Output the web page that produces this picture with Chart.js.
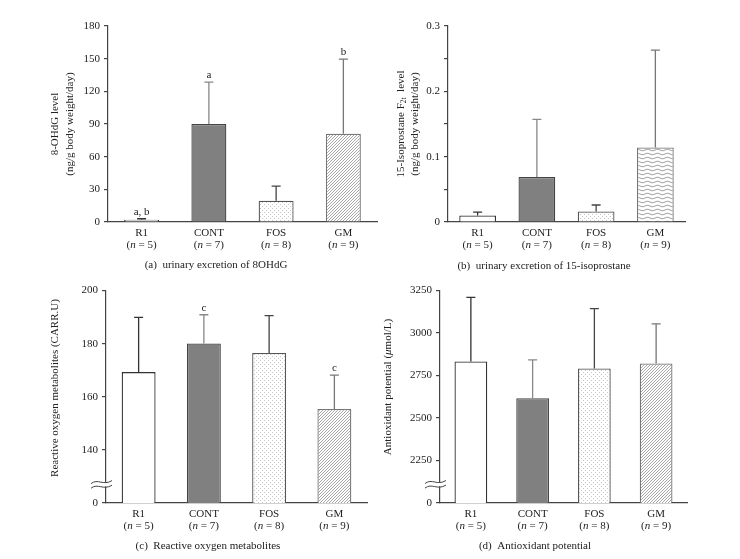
<!DOCTYPE html>
<html>
<head>
<meta charset="utf-8">
<script src="https://cdn.jsdelivr.net/npm/chart.js@4.4.0/dist/chart.umd.min.js"></script>
<style>
  body { margin: 0; background: #fff; width: 740px; height: 559px; position: relative; overflow: hidden; }
  canvas { position: absolute; }
</style>
</head>
<body>
<canvas id="chartA" width="390" height="280" style="left:0px;top:0px"></canvas>
<canvas id="chartB" width="350" height="280" style="left:390px;top:0px"></canvas>
<canvas id="chartC" width="390" height="279" style="left:0px;top:280px"></canvas>
<canvas id="chartD" width="365" height="279" style="left:375px;top:280px"></canvas>
<script>
// Groups and group sizes
const groups = ['R1', 'CONT', 'FOS', 'GM'];
const groupN = [5, 7, 8, 9];

// (a) urinary excretion of 8OHdG
const ohdgMean = [2, 90, 19.5, 81];
const ohdgSd = [1, 38.5, 13.5, 68.5];
const ohdgMarks = ['a, b', 'a', '', 'b'];
const ohdgTicks = [0, 30, 60, 90, 120, 150, 180];
const ohdgTickLabels = ['0', '30', '60', '90', '120', '150', '180'];

// (b) urinary excretion of 15-isoprostane
const isoMean = [0.010, 0.069, 0.016, 0.114];
const isoSd = [0.005, 0.088, 0.010, 0.149];
const isoTicks = [0, 0.05, 0.1, 0.15, 0.2, 0.25, 0.3];
const isoTickLabels = ['0', '', '0.1', '', '0.2', '', '0.3'];

// (c) reactive oxygen metabolites (axis broken below 140)
const romMean = [169.3, 180.1, 176.5, 155.4];
const romSd = [20.6, 10.8, 14.1, 12.8];
const romMarks = ['', 'c', '', 'c'];
const romTicks = [120, 140, 160, 180, 200];
const romTickLabels = ['0', '140', '160', '180', '200'];

// (d) antioxidant potential (axis broken below 2250)
const bapMean = [2833, 2617, 2792, 2821];
const bapSd = [377, 225, 352, 233];
const bapTicks = [2000, 2250, 2500, 2750, 3000, 3250];
const bapTickLabels = ['0', '2250', '2500', '2750', '3000', '3250'];

const FONT = '"Liberation Serif", "Times New Roman", serif';
const INK = '#222';

function makePattern(w, h, draw) {
    const c = document.createElement('canvas');
    c.width = w; c.height = h;
    const g = c.getContext('2d');
    g.fillStyle = '#fff';
    g.fillRect(0, 0, w, h);
    draw(g);
    return g.createPattern(c, 'repeat');
}

const dots = makePattern(4, 4, g => {
    g.fillStyle = '#c4c4c4';
    g.fillRect(0, 0, 1, 1);
    g.fillRect(2, 2, 1, 1);
});
const hatch = makePattern(3, 3, g => {
    g.fillStyle = '#a6a6a6';
    for (let i = 0; i < 3; i++) g.fillRect(i, 2 - i, 1, 1);
});
const waves = makePattern(10, 4, g => {
    g.strokeStyle = '#777';
    g.lineWidth = 0.8;
    g.beginPath();
    for (let x = 0; x <= 10; x += 0.5) {
        const yy = 2 + Math.sin(x / 10 * 2 * Math.PI) * 0.7;
        if (x === 0) g.moveTo(x, yy); else g.lineTo(x, yy);
    }
    g.stroke();
});

// text made of parts: [text, style] with style '' | 'i' | 'sub'
function drawRich(ctx, parts, x, y, size) {
    const fonts = parts.map(p => (p[1] === 'i' ? 'italic ' : '') + (p[1] === 'sub' ? size * 0.68 : size) + 'px ' + FONT);
    const widths = parts.map((p, k) => { ctx.font = fonts[k]; return ctx.measureText(p[0]).width; });
    let cx = x - widths.reduce((a, b) => a + b, 0) / 2;
    ctx.textAlign = 'left';
    ctx.textBaseline = 'middle';
    parts.forEach((p, k) => {
        ctx.font = fonts[k];
        ctx.fillText(p[0], cx, y + (p[1] === 'sub' ? size * 0.3 : 0));
        cx += widths[k];
    });
}

// upward error bars and letter marks
const errorBars = {
    id: 'errorBars',
    afterDatasetsDraw(chart, args, opts) {
        const { ctx } = chart;
        const y = chart.scales.y;
        const ds = chart.data.datasets[0];
        const meta = chart.getDatasetMeta(0);
        ctx.save();
        meta.data.forEach((bar, i) => {
            const top = y.getPixelForValue(ds.data[i] + opts.sd[i]);
            ctx.strokeStyle = opts.colors[i];
            ctx.lineWidth = 1.3;
            ctx.beginPath();
            ctx.moveTo(bar.x, bar.y);
            ctx.lineTo(bar.x, top);
            ctx.moveTo(bar.x - 4.5, top);
            ctx.lineTo(bar.x + 4.5, top);
            ctx.stroke();
            if (opts.marks && opts.marks[i]) {
                ctx.fillStyle = INK;
                ctx.font = '11px ' + FONT;
                ctx.textAlign = 'center';
                ctx.textBaseline = 'middle';
                ctx.fillText(opts.marks[i], bar.x, top - 7);
            }
        });
        ctx.restore();
    }
};

// n labels, y title, caption, axis break
const annotations = {
    id: 'annotations',
    afterDraw(chart, args, opts) {
        const { ctx } = chart;
        const x = chart.scales.x, y = chart.scales.y;
        ctx.save();
        ctx.fillStyle = INK;
        groupN.forEach((n, i) => {
            drawRich(ctx, [['(', ''], ['n', 'i'], [' = ' + n + ')', '']], x.getPixelForValue(i), x.top + 23, 11);
        });
        opts.title.forEach((line, k) => {
            ctx.save();
            ctx.translate(opts.titleX[k], opts.titleY);
            ctx.rotate(-Math.PI / 2);
            drawRich(ctx, line, 0, 0, 11);
            ctx.restore();
        });
        drawRich(ctx, opts.caption, opts.captionX, opts.captionY, 11);
        if (opts.breakAt !== undefined) {
            const py = y.getPixelForValue(opts.breakAt);
            const ax = y.right;
            ctx.fillStyle = '#fff';
            ctx.fillRect(ax - 2, py - 2, 4, 4);
            ctx.strokeStyle = '#444';
            ctx.lineWidth = 1;
            [-2.3, 2.3].forEach(d => {
                ctx.beginPath();
                ctx.moveTo(ax - 15, py + d + 1.5);
                ctx.bezierCurveTo(ax - 8, py + d - 4, ax - 3, py + d + 4, ax + 6, py + d - 1.5);
                ctx.stroke();
            });
        }
        ctx.restore();
    }
};

function makePanel(id, cfg) {
    return new Chart(document.getElementById(id).getContext('2d'), {
        type: 'bar',
        data: {
            labels: groups,
            datasets: [{
                data: cfg.mean,
                backgroundColor: cfg.fills,
                borderColor: ['#333', '#444', '#555', '#777'],
                borderWidth: 1.3,
                barPercentage: cfg.barPct,
                categoryPercentage: 1
            }]
        },
        plugins: [errorBars, annotations],
        options: {
            responsive: false,
            animation: false,
            layout: { padding: cfg.padding },
            plugins: {
                legend: { display: false },
                tooltip: { enabled: false },
                errorBars: { sd: cfg.sd, marks: cfg.marks, colors: ['#333', '#888', '#444', '#777'] },
                annotations: cfg.notes
            },
            scales: {
                x: {
                    grid: { display: false, drawTicks: false },
                    border: { display: true, color: '#444', width: 1.2 },
                    ticks: { color: INK, padding: 5, font: { family: FONT, size: 11 } },
                    afterFit(scale) { scale.height = 30; }
                },
                y: {
                    min: cfg.ticks[0],
                    max: cfg.ticks[cfg.ticks.length - 1],
                    afterBuildTicks(scale) { scale.ticks = cfg.ticks.map(v => ({ value: v })); },
                    grid: { display: true, drawOnChartArea: false, drawTicks: true, tickLength: 4, color: '#444', lineWidth: 1.2 },
                    border: { display: true, color: '#444', width: 1.2 },
                    ticks: {
                        color: INK, padding: 4, font: { family: FONT, size: 11 },
                        callback: (v, i) => cfg.tickLabels[i]
                    },
                    afterFit(scale) { scale.width = cfg.yWidth; }
                }
            }
        }
    });
}

makePanel('chartA', {
    mean: ohdgMean, sd: ohdgSd, marks: ohdgMarks,
    ticks: ohdgTicks, tickLabels: ohdgTickLabels,
    fills: ['#ffffff', '#808080', dots, hatch],
    barPct: 0.52, yWidth: 108,
    padding: { top: 26, right: 13, bottom: 28, left: 0 },
    notes: {
        title: [[['8-OHdG level', '']], [['(ng/g body weight/day)', '']]],
        titleX: [55, 70], titleY: 124,
        caption: [['(a)  urinary excretion of 8OHdG', '']], captionX: 216, captionY: 265
    }
});

makePanel('chartB', {
    mean: isoMean, sd: isoSd, marks: null,
    ticks: isoTicks, tickLabels: isoTickLabels,
    fills: ['#ffffff', '#808080', dots, waves],
    barPct: 0.62, yWidth: 58,
    padding: { top: 26, right: 55, bottom: 28, left: 0 },
    notes: {
        title: [[['15-Isoprostane F', ''], ['2t', 'sub'], ['  level', '']], [['(ng/g body weight/day)', '']]],
        titleX: [11, 25], titleY: 124,
        caption: [['(b)  urinary excretion of 15-isoprostane', '']], captionX: 154, captionY: 266
    }
});

makePanel('chartC', {
    mean: romMean, sd: romSd, marks: romMarks,
    ticks: romTicks, tickLabels: romTickLabels,
    fills: ['#ffffff', '#808080', dots, hatch],
    barPct: 0.52, yWidth: 106,
    padding: { top: 7, right: 23, bottom: 26, left: 0 },
    notes: {
        title: [[['Reactive oxygen metabolites (CARR.U)', '']]],
        titleX: [55], titleY: 108,
        caption: [['(c)  Reactive oxygen metabolites', '']], captionX: 208, captionY: 266.5,
        breakAt: 127
    }
});

makePanel('chartD', {
    mean: bapMean, sd: bapSd, marks: null,
    ticks: bapTicks, tickLabels: bapTickLabels,
    fills: ['#ffffff', '#808080', dots, hatch],
    barPct: 0.53, yWidth: 65,
    padding: { top: 7, right: 53, bottom: 26, left: 0 },
    notes: {
        title: [[['Antioxidant potential (', ''], ['\u03bc', 'i'], ['mol/L)', '']]],
        titleX: [13], titleY: 107,
        caption: [['(d)  Antioxidant potential', '']], captionX: 160, captionY: 266,
        breakAt: 2110
    }
});
</script>
</body>
</html>
